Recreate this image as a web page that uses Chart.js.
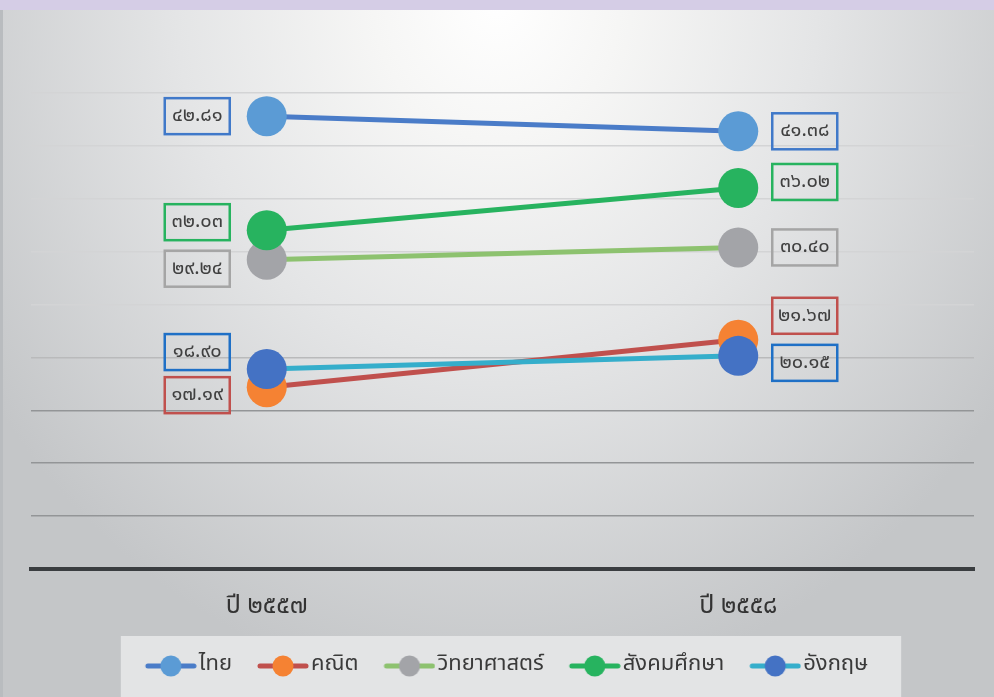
<!DOCTYPE html>
<html>
<head>
<meta charset="utf-8">
<title>ผลคะแนนเฉลี่ย</title>
<script src="https://cdn.jsdelivr.net/npm/chart.js"></script>
<style>
  html, body { margin: 0; padding: 0; }
  body {
    width: 994px; height: 697px; overflow: hidden; position: relative;
    background: radial-gradient(ellipse 62% 100% at 50% 0%, #ffffff 0%, #f6f6f5 20%, #e4e5e6 52%, #c4c6c8 100%);
  }
  .topband { position: absolute; left: 0; top: 0; width: 994px; height: 10px; background: #d5cde6; }
  .leftedge { position: absolute; left: 0; top: 10px; width: 3px; bottom: 0; background: #b9bcbf; }
  canvas { position: absolute; left: 0; top: 0; }
</style>
</head>
<body>
<div class="topband"></div>
<div class="leftedge"></div>
<canvas id="scoreChart" width="994" height="697"></canvas>
<script>
// ---- data ----
const years = ['ปี ๒๕๕๗', 'ปี ๒๕๕๘'];
const subjects = ['ไทย', 'คณิต', 'วิทยาศาสตร์', 'สังคมศึกษา', 'อังกฤษ'];
const thaiScores = [42.81, 41.38];
const mathScores = [17.19, 21.67];
const scienceScores = [29.24, 30.40];
const socialScores = [32.03, 36.02];
const englishScores = [18.90, 20.15];
const yMax = 45;
const yStep = 5;

// ---- styles ----
const lineColors = ['#4a7cc8', '#c0504d', '#8dc26f', '#27b35f', '#35aecb'];
const dotColors = ['#5b9bd5', '#f58233', '#a3a4a8', '#27b35f', '#4472c4'];
const boxColors = ['#4079c9', '#c0504d', '#a5a5a5', '#27b35f', '#1f70c6'];
// vertical nudges (px) for the value boxes so they don't collide
const boxShift = [[0, 0], [8, -24], [9, 0], [-8, -6], [-17, 7]];

const FONT = '"Noto Sans Thai", "Noto Sans", "DejaVu Sans", sans-serif';
const LEGEND_SIZE = 22;
const LEGEND_NUDGE = -5;

function thaiDigits(s) {
  return s.replace(/[0-9]/g, d => '๐๑๒๓๔๕๖๗๘๙'[d]);
}

// legend marker: line with a dot, drawn at the right end of a wider canvas
// so it sits just before the text (chart.js centres the image in its box)
function legendIcon(lineColor, dotColor) {
  const c = document.createElement('canvas');
  c.width = 78; c.height = 24;
  const g = c.getContext('2d');
  const x0 = 78 - 52;
  g.strokeStyle = lineColor; g.lineWidth = 5; g.lineCap = 'round';
  g.beginPath(); g.moveTo(x0 + 3, 12); g.lineTo(x0 + 49, 12); g.stroke();
  g.fillStyle = dotColor;
  g.beginPath(); g.arc(x0 + 26, 12, 10.5, 0, Math.PI * 2); g.fill();
  return c;
}

const allScores = [thaiScores, mathScores, scienceScores, socialScores, englishScores];
const datasets = subjects.map((name, i) => ({
  label: name,
  data: allScores[i],
  borderColor: lineColors[i],
  backgroundColor: dotColors[i],
  pointBackgroundColor: dotColors[i],
  pointBorderWidth: 0,
  pointRadius: 20,
  borderWidth: 5,
  order: subjects.length - i,
  clip: false
}));

const valueBoxes = {
  id: 'valueBoxes',
  afterDatasetsDraw(chart) {
    const ctx = chart.ctx;
    ctx.save();
    ctx.font = '20px ' + FONT;
    ctx.textAlign = 'center';
    ctx.textBaseline = 'middle';
    chart.data.datasets.forEach((ds, di) => {
      chart.getDatasetMeta(di).data.forEach((pt, i) => {
        const w = 65, h = 36;
        const cx = i === 0 ? pt.x - 37 - w / 2 : pt.x + 34 + w / 2;
        const cy = pt.y + boxShift[di][i];
        ctx.lineWidth = 2.5;
        ctx.strokeStyle = boxColors[di];
        ctx.strokeRect(cx - w / 2, cy - h / 2, w, h);
        ctx.fillStyle = '#404040';
        ctx.fillText(thaiDigits(ds.data[i].toFixed(2)), cx, cy + 1);
      });
    });
    ctx.restore();
  }
};

const legendPanel = {
  id: 'legendPanel',
  afterLayout(chart) {
    const lg = chart.legend;
    if (!lg) return;
    lg.left += LEGEND_NUDGE;
    lg.right += LEGEND_NUDGE;
    lg.legendHitBoxes.forEach(b => { b.left += LEGEND_NUDGE; });
  },
  beforeDraw(chart) {
    const lg = chart.legend;
    if (!lg || !lg.legendHitBoxes.length) return;
    const boxes = lg.legendHitBoxes;
    const first = boxes[0], last = boxes[boxes.length - 1];
    const top = first.top + LEGEND_SIZE / 2 - 30;
    const left = first.left - 7;
    const right = last.left + last.width + 33;
    const ctx = chart.ctx;
    ctx.save();
    ctx.fillStyle = '#e3e4e5';
    ctx.fillRect(left, top, right - left, chart.height - top);
    ctx.restore();
  }
};

new Chart(document.getElementById('scoreChart'), {
  type: 'line',
  data: { labels: years, datasets: datasets },
  plugins: [legendPanel, valueBoxes],
  options: {
    responsive: false,
    animation: false,
    layout: { padding: { left: 31, right: 19, top: 93, bottom: 10 } },
    plugins: {
      tooltip: { enabled: false },
      legend: {
        position: 'bottom',
        labels: {
          usePointStyle: true,
          pointStyleWidth: 60,
          padding: 8,
          color: '#3a3a3a',
          font: { family: FONT, size: LEGEND_SIZE },
          generateLabels(chart) {
            return chart.data.datasets.map((ds, i) => ({
              text: ds.label,
              pointStyle: legendIcon(lineColors[i], dotColors[i]),
              fillStyle: dotColors[i],
              strokeStyle: lineColors[i],
              lineWidth: 0,
              hidden: false,
              datasetIndex: i,
              fontColor: '#3a3a3a'
            }));
          }
        }
      }
    },
    scales: {
      x: {
        offset: true,
        grid: { display: false, drawTicks: false },
        border: { display: true, color: '#3a3d40', width: 4 },
        ticks: { color: '#333', padding: 24, font: { family: FONT, size: 25 } }
      },
      y: {
        min: 0,
        max: yMax,
        ticks: { display: false, stepSize: yStep },
        border: { display: false },
        grid: {
          drawTicks: false,
          lineWidth: 1.5,
          color: ctx => {
            const v = ctx.tick ? ctx.tick.value : 0;
            if (v >= 25) return '#d3d4d5';
            if (v >= 20) return '#b9babb';
            return '#939597';
          }
        }
      }
    }
  }
});
</script>
</body>
</html>
